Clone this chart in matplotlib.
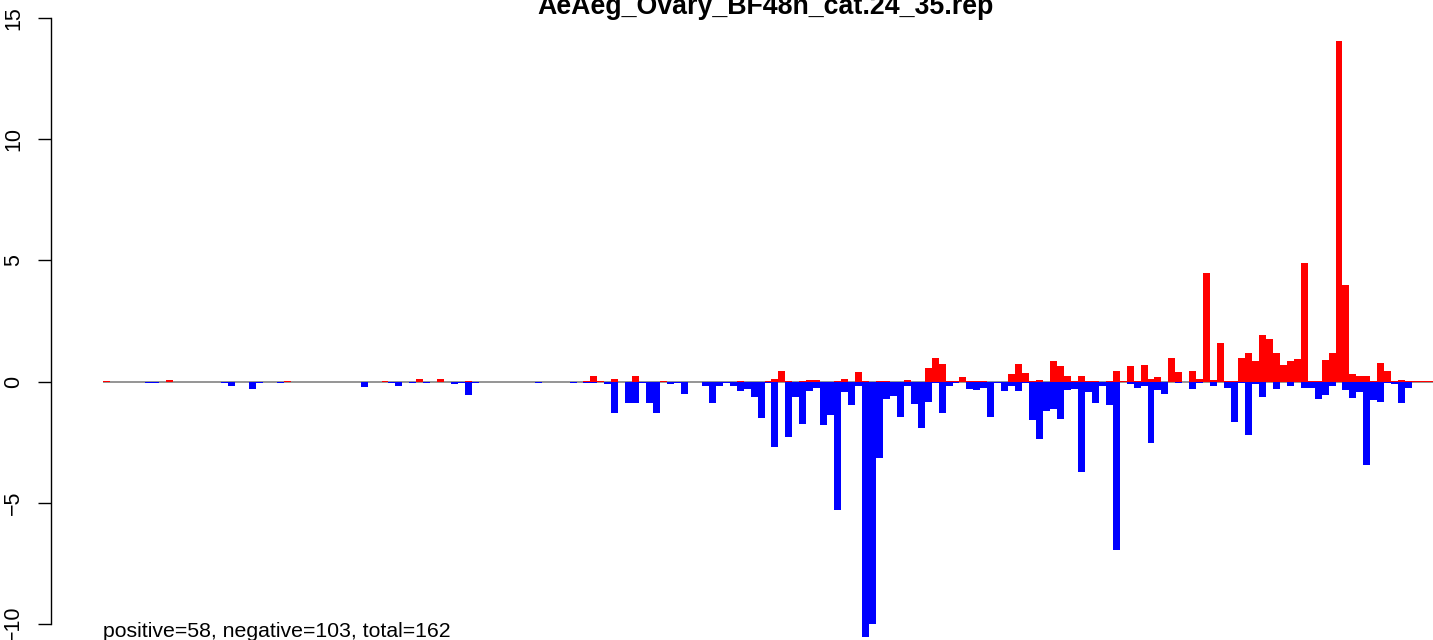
import matplotlib
matplotlib.use("Agg")
import matplotlib.pyplot as plt
import numpy as np

title = "AeAeg_Ovary_BF48h_cat.24_35.rep"
footer = "positive=58, negative=103, total=162"
yticks = [-10, -5, 0, 5, 10, 15]

red_values = [
    0.03, 0, 0, 0, 0, 0, 0, 0, 0, 0.06,
    0, 0, 0, 0, 0, 0, 0, 0, 0, 0,
    0, 0, 0, 0, 0, 0, 0.02, 0, 0, 0,
    0, 0, 0, 0, 0, 0, 0, 0, 0, 0,
    0.03, 0, 0, 0, 0, 0.12, 0, 0, 0.12, 0,
    0, 0, 0.04, 0, 0, 0, 0, 0, 0, 0,
    0, 0, 0, 0, 0, 0, 0, 0, 0, 0.03,
    0.22, 0.04, 0, 0.12, 0, 0, 0.22, 0, 0, 0,
    0.04, 0, 0, 0, 0, 0, 0, 0, 0, 0,
    0, 0.04, 0, 0, 0, 0.04, 0.12, 0.45, 0.04, 0,
    0.04, 0.06, 0.08, 0, 0, 0.04, 0.12, 0, 0.41, 0.04,
    0, 0.04, 0.04, 0, 0, 0.08, 0, 0, 0.54, 0.95,
    0.74, 0.04, 0.04, 0.17, 0.04, 0.02, 0.02, 0, 0, 0,
    0.29, 0.74, 0.37, 0.02, 0.08, 0, 0.83, 0.62, 0.21, 0.04,
    0.21, 0.02, 0.04, 0, 0.04, 0.45, 0.04, 0.62, 0.02, 0.70,
    0.12, 0.17, 0, 0.95, 0.41, 0, 0.45, 0.12, 4.46, 0.08,
    1.57, 0.04, 0.04, 0.99, 1.16, 0.83, 1.90, 1.74, 1.16, 0.70,
    0.83, 0.91, 4.88, 0.02, 0.02, 0.87, 1.16, 14.05, 3.97, 0.29,
    0.21, 0.21, 0.04, 0.78, 0.45, 0.04, 0.08, 0.04, 0.04, 0.04,
    0.04,
]

blue_values = [
    0, 0, 0, 0, 0, 0, -0.07, -0.07, 0, 0,
    0, 0, 0, 0, 0, 0, 0, -0.07, -0.2, 0,
    0, -0.33, -0.07, 0, 0, -0.07, 0, 0, 0, 0,
    0, 0, 0, 0, 0, 0, 0, -0.21, 0, 0,
    0, -0.05, -0.17, 0, -0.08, 0, -0.06, 0, 0, 0,
    -0.1, -0.05, -0.54, -0.06, 0, 0, 0, 0, 0, 0,
    0, 0, -0.06, 0, 0, 0, 0, -0.08, 0, -0.06,
    -0.06, 0, -0.12, -1.32, 0, -0.9, -0.9, -0.06, -0.9, -1.32,
    0, -0.12, -0.05, -0.5, 0, 0, -0.2, -0.9, -0.17, -0.08,
    -0.17, -0.41, -0.33, -0.66, -1.49, -0.08, -2.69, 0, -2.31, -0.62,
    -1.74, -0.41, -0.25, -1.78, -1.40, -5.29, -0.45, -0.95, -0.17, -10.54,
    -10.0, -3.14, -0.74, -0.58, -1.45, -0.17, -0.91, -1.90, -0.83, -0.08,
    -1.32, -0.17, -0.08, 0, -0.33, -0.37, -0.25, -1.45, -0.08, -0.41,
    -0.17, -0.41, -0.08, -1.57, -2.36, -1.20, -1.12, -1.53, -0.37, -0.29,
    -3.72, -0.45, -0.87, -0.2, -0.95, -6.94, 0, -0.12, -0.25, -0.17,
    -2.52, -0.37, -0.50, 0, -0.08, 0, -0.33, -0.08, 0, -0.2,
    0, -0.25, -1.69, -0.08, -2.19, -0.12, -0.62, 0, -0.33, -0.04,
    -0.17, 0, -0.25, -0.25, -0.74, -0.54, -0.2, -0.04, -0.37, -0.70,
    -0.45, -3.43, -0.78, -0.83, -0.08, -0.12, -0.87, -0.25, 0, 0,
    0,
]

W, H, DPI = 1433, 640, 100
fig = plt.figure(figsize=(W / DPI, H / DPI), dpi=DPI)
plt.rcParams['font.family'] = ['Liberation Sans', 'DejaVu Sans']

ax_left = 50.5
ax = fig.add_axes([ax_left / W, 0, 1 - ax_left / W, 1])
ax.patch.set_alpha(0)

n = len(red_values)
x = np.arange(n)
bar_px = (W - 103) / n
ax.set_xlim(-(103 - ax_left) / bar_px, n)
ppu = (623 - 17) / 25.0
zero_y = 381.5
ax.set_ylim(-(H - zero_y) / ppu, zero_y / ppu)

ax.hlines(0, 0, n, color='#8c8c8c', lw=1.3, zorder=1)
ax.bar(x, blue_values, width=1.0, align='edge', color='#0000FF', linewidth=0, zorder=2)
ax.bar(x, red_values, width=1.0, align='edge', color='#FF0000', linewidth=0, zorder=2)

for s in ['top', 'right', 'bottom']:
    ax.spines[s].set_visible(False)
ax.spines['left'].set_bounds(-10, 15)
ax.spines['left'].set_linewidth(1.0)
ax.set_xticks([])
ax.set_yticks(yticks)
ax.set_yticklabels([str(t) if t >= 0 else '\u2212' + str(-t) for t in yticks])
ax.tick_params(axis='y', length=9.4, width=1.0, pad=9.5, labelsize=15.5)
for lab in ax.get_yticklabels():
    lab.set_rotation(90)
    lab.set_va('center')
    lab.set_ha('right')

fig.text(766 / W, 1 - 14 / H, title, ha='center', va='baseline',
         fontsize=19.3, fontweight='bold')
fig.text(103 / W, 1 - 637 / H, footer, ha='left', va='baseline', fontsize=15.3)

fig.savefig('out.png', dpi=DPI)
